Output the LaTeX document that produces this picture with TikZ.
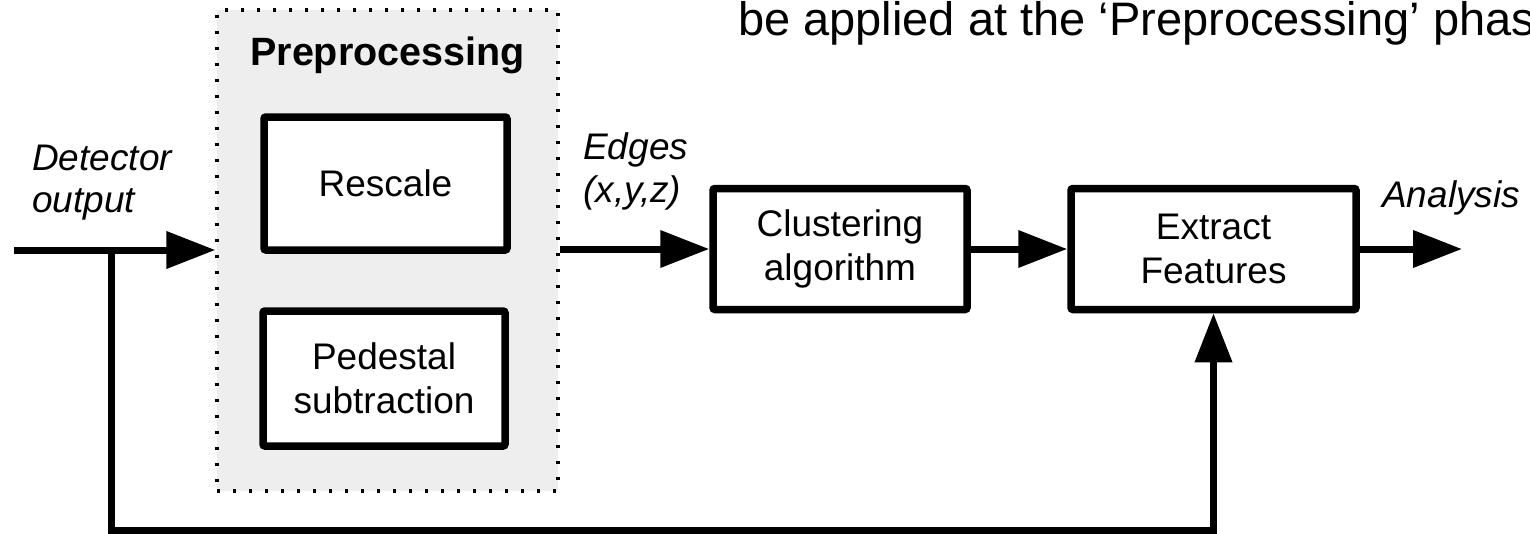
\documentclass[tikz,border=0pt]{standalone}
\usepackage{fontspec}
\setmainfont{Liberation Sans}
\usetikzlibrary{arrows.meta}
\definecolor{prebg}{HTML}{EEEEEE}
\begin{document}
\begin{tikzpicture}[x=1pt,y=-1pt,
  box/.style={draw,line width=7.5pt,rounded corners=2pt,fill=white,inner sep=0pt,align=center,font=\fontsize{37}{43.5}\selectfont},
  conn/.style={line width=7pt,-{Triangle[length=49pt,width=36pt]}},
  lbl/.style={inner sep=0pt,anchor=base west,font=\fontsize{37}{43}\selectfont\itshape},
  dotbox/.style={draw,fill=prebg,line width=3.3pt,dash pattern=on 3.3pt off 12.7pt,inner sep=0pt},
]
\useasboundingbox (0,0) rectangle (1530,533);
\clip (0,0) rectangle (1530,533);
% preprocessing group
\node[dotbox,minimum width=341pt,minimum height=481pt] (pre) at (387.5,250.5) {};
\node[inner sep=0pt,anchor=base,font=\fontsize{39.5}{44}\selectfont\bfseries] (pretitle) at (387.5,65) {Preprocessing};
\node[box,minimum width=243pt,minimum height=133pt] (resc) at (385.5,183.5) {Rescale};
\node[box,minimum width=242pt,minimum height=135pt] (ped) at (384,378.5) {Pedestal\\subtraction};
% main chain
\node[box,minimum width=254pt,minimum height=121pt] (clu) at (840,249) {Clustering\\algorithm};
\node[box,minimum width=285pt,minimum height=121pt] (ext) at (1213.5,249) {Extract\\Features};
% free ends
\coordinate (in) at (14,250);
\coordinate (branch) at (111,250);
\coordinate (fb) at (111,530);
\coordinate (out) at (1462,249);
% connectors
\draw[conn] (in) -- (in -| pre.west);
\draw[conn] (pre.east |- clu.west) -- (clu.west);
\draw[conn] (clu) -- (ext);
\draw[conn] (ext.east) -- (out);
\draw[conn] (branch) -- (fb) -| (ext.south);
% labels
\node[lbl] (det1) at (32,170) {Detector};
\node[lbl] (det2) at (32,212) {output};
\node[lbl] (edg1) at (583,159) {Edges};
\node[lbl] (edg2) at (583,202) {(x,y,z)};
\node[lbl] (ana) at (1382,207) {Analysis};
\node[inner sep=0pt,anchor=base west,font=\fontsize{47}{50}\selectfont] (toptext) at (738,35) {be applied at the ‘Preprocessing’ phase};
\end{tikzpicture}
\end{document}
